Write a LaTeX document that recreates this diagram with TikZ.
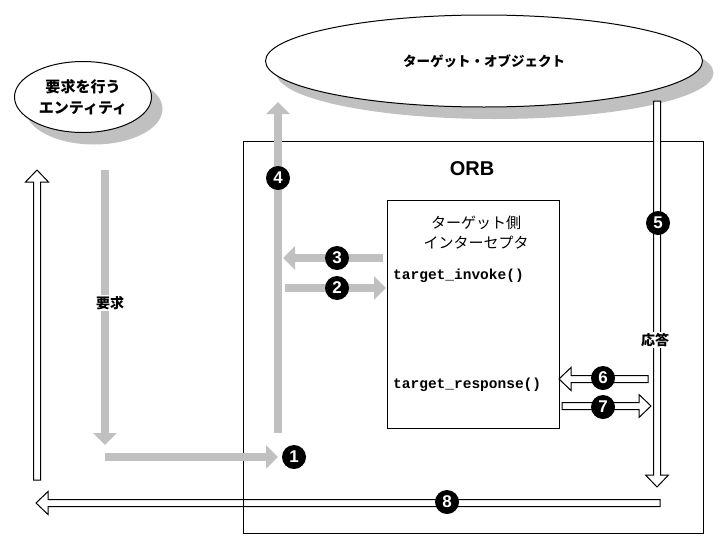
\documentclass[tikz,border=0pt]{standalone}
\usepackage{fontspec}
\usepackage{tikz}
\usetikzlibrary{arrows.meta, calc, shapes.geometric, shadows}
\setmainfont{Liberation Sans}
\newfontfamily\jp{Noto Sans CJK JP}
\newfontfamily\mono{Liberation Mono}
\definecolor{argray}{HTML}{C0C0C0}
\tikzset{
	grayarrow/.style={draw=argray, line width=8pt, -{Triangle[length=12pt, width=23pt]}},
	hollow/.style={draw, line width=1pt, fill=white, line join=miter},
	num/.style={circle, fill=black, text=white, inner sep=0pt, minimum size=24pt, font=\bfseries\fontsize{17}{17}\selectfont},
	entity/.style={ellipse, draw, fill=white, line width=1pt, inner sep=0pt, drop shadow={shadow xshift=11pt, shadow yshift=-12pt, fill=argray, opacity=1}},
	jplabel/.style={fill=white, inner sep=1pt, font=\jp\bfseries\fontsize{14}{14}\selectfont}
}
\newcommand\hollowarrow[2]{%
	\coordinate (hb) at ($(#2)!12pt!(#1)$);
	\draw[hollow] ($(#1)!3.5pt!90:(#2)$) -- ($(hb)!3.5pt!90:(#2)$) -- ($(hb)!11.5pt!90:(#2)$) -- (#2) -- ($(hb)!11.5pt!-90:(#2)$) -- ($(hb)!3.5pt!-90:(#2)$) -- ($(#1)!3.5pt!-90:(#2)$) -- cycle;
}

\begin{document}
\begin{tikzpicture}[x=1pt, y=-1pt]
		\useasboundingbox (0,0) rectangle (720,544);
		\node[entity, minimum width=137pt, minimum height=71pt, align=center, font=\jp\bfseries\fontsize{15}{21}\selectfont] (client) at (83,97) {要求を行う\\エンティティ};
		\node[entity, minimum width=437pt, minimum height=92pt, font=\jp\bfseries\fontsize{13.5}{14}\selectfont] (target) at (484,61) {ターゲット・オブジェクト};

		\coordinate (resp8a) at (660,503);	\coordinate (resp8b) at (36,503);
		\hollowarrow{resp8a}{resp8b}
		\node[draw, line width=1pt, minimum width=460pt, minimum height=392pt] (orb) at (473,337) {};
		\node[font=\bfseries\fontsize{20}{20}\selectfont] (orblbl) at (472,169) {ORB};
		\node[draw, line width=1pt, fill=white, minimum width=172pt, minimum height=228pt] (icpt) at (473,314) {};
		\node[align=center, font=\jp\fontsize{15}{20}\selectfont] (icptlbl) at (476,233) {ターゲット側\\インターセプタ};
		\node[anchor=west, inner sep=0pt, font=\mono\bfseries\fontsize{14.5}{15}\selectfont] (invoke) at (393,276) {target\_invoke()};
		\node[anchor=west, inner sep=0pt, font=\mono\bfseries\fontsize{14.5}{15}\selectfont] (response) at (393,385) {target\_response()};

		\coordinate (req1) at (105,170);	\coordinate (req2) at (105,445);
		\coordinate (in1a) at (105,457);	\coordinate (in1b) at (278,457);
		\coordinate (up4a) at (278,433);	\coordinate (up4b) at (278,102);
		\coordinate (ic3a) at (383,258);	\coordinate (ic3b) at (283,258);
		\coordinate (ic2a) at (285,288);	\coordinate (ic2b) at (386,288);
		\draw[grayarrow] (req1) -- (req2);
		\draw[grayarrow] (in1a) -- (in1b);
		\draw[grayarrow] (up4a) -- (up4b);
		\draw[grayarrow] (ic3a) -- (ic3b);
		\draw[grayarrow] (ic2a) -- (ic2b);
		\node[jplabel] (reqlbl) at (110,303) {要求};

		\coordinate (down5a) at (657,101);	\coordinate (down5b) at (657,487);
		\coordinate (ic6a) at (648,379);	\coordinate (ic6b) at (559,379);
		\coordinate (ic7a) at (562,406);	\coordinate (ic7b) at (651,406);
		\coordinate (back9a) at (37,480);	\coordinate (back9b) at (37,170);
		\hollowarrow{down5a}{down5b}
		\hollowarrow{ic6a}{ic6b}
		\hollowarrow{ic7a}{ic7b}
		\hollowarrow{back9a}{back9b}
		\node[jplabel] (resplbl) at (655,340) {応答};

		\node[num] (n1) at (294,457) {1};
		\node[num] (n2) at (337,288) {2};
		\node[num] (n3) at (337,258) {3};
		\node[num] (n4) at (278,178) {4};
		\node[num] (n5) at (658,223) {5};
		\node[num] (n6) at (603,378) {6};
		\node[num] (n7) at (603,407) {7};
		\node[num] (n8) at (447,502) {8};
	\end{tikzpicture}
\end{document}
